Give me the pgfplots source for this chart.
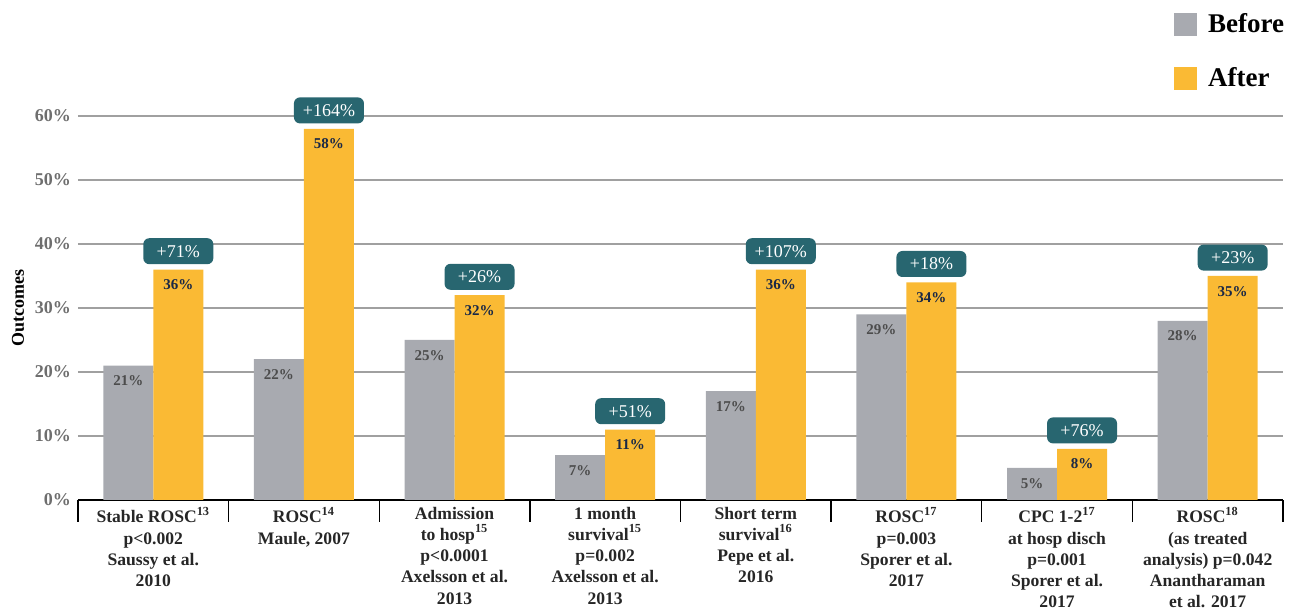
\documentclass[border=0pt]{standalone}
\usepackage{pgfplots}
\pgfplotsset{compat=1.18}
\usepackage{pgfplotstable}
\usepackage{fontspec}
\setmainfont{Liberation Serif}
\definecolor{bargray}{RGB}{168,170,176}
\definecolor{barorange}{RGB}{250,186,52}
\definecolor{tealbox}{RGB}{40,102,112}
\definecolor{navytext}{RGB}{25,40,70}
\definecolor{tickgray}{RGB}{110,110,110}
\definecolor{gridgray}{RGB}{160,160,160}

\pgfplotstableread{
x before after pct
0 21 36 +71
1 22 58 +164
2 25 32 +26
3 7 11 +51
4 17 36 +107
5 29 34 +18
6 5 8 +76
7 28 35 +23
}\data

\begin{document}
\begin{tikzpicture}
\useasboundingbox (0,0) rectangle (645.5pt,304.5pt);
\begin{axis}[
  at={(39pt,54.5pt)}, anchor=south west,
  scale only axis, width=602.5pt, height=192pt,
  xmin=-0.5, xmax=7.5, ymin=0, ymax=60,
  clip=false,
  /pgf/number format/assume math mode=true,
  axis lines*=left,
  y axis line style={draw=none},
  x axis line style={black, line width=0.9pt},
  xtick={0,...,7},
  minor xtick={-0.5,0.5,...,7.5},
  tick align=outside,
  major tick length=0pt,
  minor tick length=11pt,
  minor tick style={black, line width=0.7pt},
  ytick style={draw=none},
  ytick={0,10,...,60},
  yticklabels={0\%,10\%,20\%,30\%,40\%,50\%,60\%},
  ymajorgrids,
  major grid style={gridgray, line width=0.7pt},
  yticklabel style={font=\bfseries\fontsize{9}{10}\selectfont, text=tickgray},
  xticklabel style={font=\bfseries\fontsize{8.8}{10.6}\selectfont, align=center, text=black!85},
  xticklabels={
    {Stable ROSC\textsuperscript{13}\\p<0.002\\Saussy et al.\\2010},
    {ROSC\textsuperscript{14}\\Maule, 2007},
    {Admission\\to hosp\textsuperscript{15}\\p<0.0001\\Axelsson et al.\\2013},
    {1 month\\survival\textsuperscript{15}\\p=0.002\\Axelsson et al.\\2013},
    {Short term\\survival\textsuperscript{16}\\Pepe et al.\\2016},
    {ROSC\textsuperscript{17}\\p=0.003\\Sporer et al.\\2017},
    {CPC 1-2\textsuperscript{17}\\at hosp disch\\p=0.001\\Sporer et al.\\2017},
    {ROSC\textsuperscript{18}\\(as treated\\analysis) p=0.042\\Anantharaman\\et al. 2017}
  },
  ylabel={Outcomes},
  ylabel style={font=\bfseries\fontsize{9}{10}\selectfont, at={(axis description cs:-0.0498,0.5)}, anchor=center},
  legend style={at={(axis description cs:0.9093,1.279)}, anchor=north west, draw=none, fill=none,
    font=\bfseries\fontsize{13.5}{15}\selectfont, row sep=12pt, inner sep=0pt},
  legend cell align=left,
]
\addplot[ybar, bar width=25pt, bar shift=-12.5pt, fill=bargray, draw=none, forget plot,
  nodes near coords={\pgfmathprintnumber{\pgfplotspointmeta}\%},
  every node near coord/.append style={anchor=north, xshift=-12.5pt, yshift=-1.5pt, font=\bfseries\fontsize{7.5}{8}\selectfont, text=black!70}]
  table[x=x, y=before]{\data};
\addplot[ybar, bar width=25pt, bar shift=12.5pt, fill=barorange, draw=none, forget plot,
  nodes near coords={\pgfmathprintnumber{\pgfplotspointmeta}\%},
  every node near coord/.append style={anchor=north, xshift=12.5pt, yshift=-1.5pt, font=\bfseries\fontsize{7.5}{8}\selectfont, text=navytext}]
  table[x=x, y=after]{\data};
\addplot[ybar, bar width=25pt, bar shift=12.5pt, fill=none, draw=none, forget plot,
  point meta=explicit symbolic,
  nodes near coords={\pgfplotspointmeta\%},
  every node near coord/.append style={anchor=south, xshift=12.5pt, yshift=2.5pt, fill=tealbox, text=white,
    rounded corners=3pt, minimum width=35pt, minimum height=13pt, inner sep=1pt,
    font=\fontsize{9}{10}\selectfont}]
  table[x=x, y=after, meta=pct]{\data};
\addlegendimage{legend image code/.code={\path[draw=none, fill=none] (0pt,-1pt) rectangle (15pt,1pt); \fill[bargray, draw=none] (0pt,-5.75pt) rectangle (11.5pt,5.75pt);}}
\addlegendentry{Before}
\addlegendimage{legend image code/.code={\path[draw=none, fill=none] (0pt,-1pt) rectangle (15pt,1pt); \fill[barorange, draw=none] (0pt,-5.75pt) rectangle (11.5pt,5.75pt);}}
\addlegendentry{After}
\end{axis}
\end{tikzpicture}
\end{document}
